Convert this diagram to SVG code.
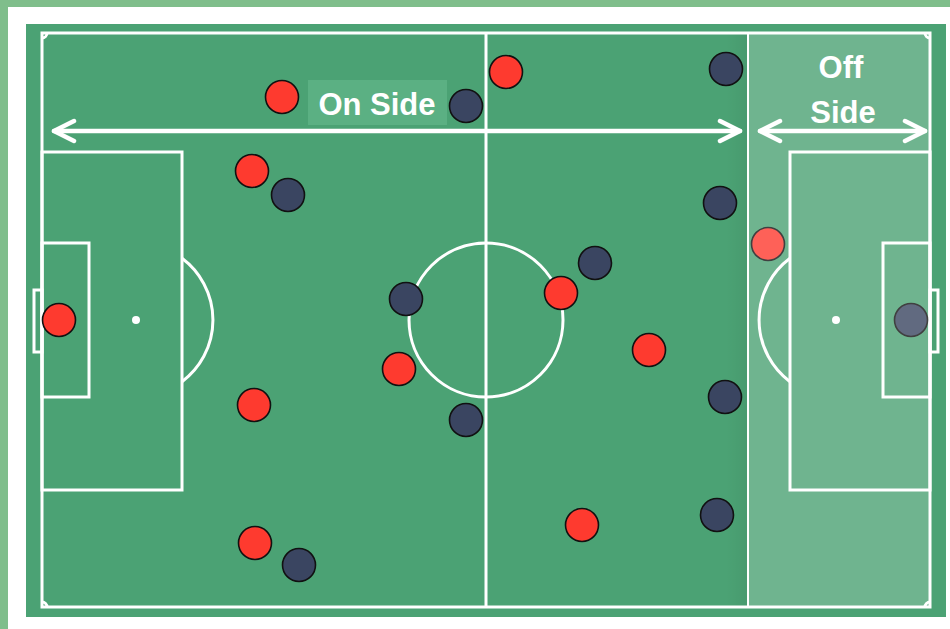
<svg xmlns="http://www.w3.org/2000/svg" width="950" height="629" viewBox="0 0 950 629">
  <style>
    .line { fill: none; stroke: #ffffff; stroke-width: 3; }
    .red { fill: #fe3a2f; stroke: #111111; stroke-width: 1.6; }
    .navy { fill: #3a4561; stroke: #111111; stroke-width: 1.6; }
    .lbl { font-family: "Liberation Sans", Arial, sans-serif; font-weight: bold; fill: #ffffff; text-anchor: middle; }
    .arrow { fill: none; stroke: #ffffff; stroke-width: 4.5; stroke-linecap: round; }
  </style>
  <defs>
    <marker id="chev" markerUnits="userSpaceOnUse" viewBox="-24 -13 28 26" refX="0" refY="0" markerWidth="28" markerHeight="26" orient="auto-start-reverse">
      <path d="M-20,-10 L0,0 L-20,10" fill="none" stroke="#ffffff" stroke-width="4.5" stroke-linecap="round" stroke-linejoin="round"/>
    </marker>
    <linearGradient id="shade" x1="0" y1="0" x2="1" y2="0">
      <stop offset="0" stop-color="#000000" stop-opacity="0"/>
      <stop offset="1" stop-color="#000000" stop-opacity="0.05"/>
    </linearGradient>
  </defs>

  <!-- background -->
  <rect x="0" y="0" width="950" height="629" fill="#7fbe8b"/>
  <rect x="8" y="7" width="942" height="622" fill="#ffffff"/>
  <rect x="26" y="24" width="920" height="593" fill="#4ba274"/>
  <rect x="726" y="33" width="22" height="574" fill="url(#shade)"/>

  <!-- pitch markings -->
  <g id="pitch">
    <rect class="line" x="42" y="33" width="888" height="574"/>
    <line class="line" x1="486" y1="33" x2="486" y2="607"/>
    <circle class="line" cx="486" cy="320" r="77"/>
    <!-- left -->
    <rect class="line" x="42" y="152" width="140" height="338"/>
    <rect class="line" x="42" y="243" width="47" height="154"/>
    <rect class="line" x="34" y="290" width="8" height="62"/>
    <circle cx="136" cy="320" r="4" fill="#ffffff"/>
    <path class="line" d="M182,258.3 A77,77 0 0 1 182,381.7"/>
    <!-- right -->
    <rect class="line" x="790" y="152" width="140" height="338"/>
    <rect class="line" x="883" y="243" width="47" height="154"/>
    <rect class="line" x="930" y="290" width="8" height="62"/>
    <circle cx="836" cy="320" r="4" fill="#ffffff"/>
    <path class="line" d="M790,258.3 A77,77 0 0 0 790,381.7"/>
    <!-- corners -->
    <path class="line" d="M47,33 A5,5 0 0 1 42,38"/>
    <path class="line" d="M42,602 A5,5 0 0 1 47,607"/>
    <path class="line" d="M925,33 A5,5 0 0 0 930,38"/>
    <path class="line" d="M930,602 A5,5 0 0 0 925,607"/>
  </g>

  <!-- players -->
  <g id="red-team">
    <circle id="r1" class="red" cx="282" cy="97" r="16.5"/>
    <circle id="r2" class="red" cx="506" cy="72" r="16.5"/>
    <circle id="r3" class="red" cx="252" cy="171" r="16.5"/>
    <circle id="r4" class="red" cx="59" cy="320" r="16.5"/>
    <circle id="r5" class="red" cx="561" cy="293" r="16.5"/>
    <circle id="r6" class="red" cx="399" cy="369" r="16.5"/>
    <circle id="r7" class="red" cx="649" cy="350" r="16.5"/>
    <circle id="r8" class="red" cx="254" cy="405" r="16.5"/>
    <circle id="r9" class="red" cx="255" cy="543" r="16.5"/>
    <circle id="r10" class="red" cx="582" cy="525" r="16.5"/>
    <circle id="r11" class="red" cx="768" cy="244" r="16.5"/>
  </g>
  <g id="navy-team">
    <circle id="n1" class="navy" cx="466" cy="106" r="16.5"/>
    <circle id="n2" class="navy" cx="726" cy="69" r="16.5"/>
    <circle id="n3" class="navy" cx="288" cy="195" r="16.5"/>
    <circle id="n4" class="navy" cx="720" cy="203" r="16.5"/>
    <circle id="n5" class="navy" cx="595" cy="263" r="16.5"/>
    <circle id="n6" class="navy" cx="406" cy="299" r="16.5"/>
    <circle id="n7" class="navy" cx="911" cy="320" r="16.5"/>
    <circle id="n8" class="navy" cx="466" cy="420" r="16.5"/>
    <circle id="n9" class="navy" cx="725" cy="397" r="16.5"/>
    <circle id="n10" class="navy" cx="717" cy="515" r="16.5"/>
    <circle id="n11" class="navy" cx="299" cy="565" r="16.5"/>
  </g>

  <!-- offside zone overlay -->
  <g id="offside-zone">
    <rect x="748" y="33" width="182" height="574" fill="#ffffff" fill-opacity="0.2"/>
    <line x1="748" y1="33" x2="748" y2="607" stroke="#ffffff" stroke-width="2"/>
  </g>

  <!-- labels -->
  <g id="onside-label">
    <rect x="308" y="80" width="139" height="45" fill="#5bb083"/>
    <text class="lbl" x="377" y="115" font-size="31">On Side</text>
  </g>
  <g id="offside-label">
    <text class="lbl" x="841" y="78" font-size="31">Off</text>
    <text class="lbl" x="843" y="123" font-size="31">Side</text>
  </g>

  <!-- connectors -->
  <g id="connectors">
    <line class="arrow" x1="54" y1="131" x2="740" y2="131" marker-start="url(#chev)" marker-end="url(#chev)"/>
    <line class="arrow" x1="760" y1="131" x2="925" y2="131" marker-start="url(#chev)" marker-end="url(#chev)"/>
  </g>
</svg>
